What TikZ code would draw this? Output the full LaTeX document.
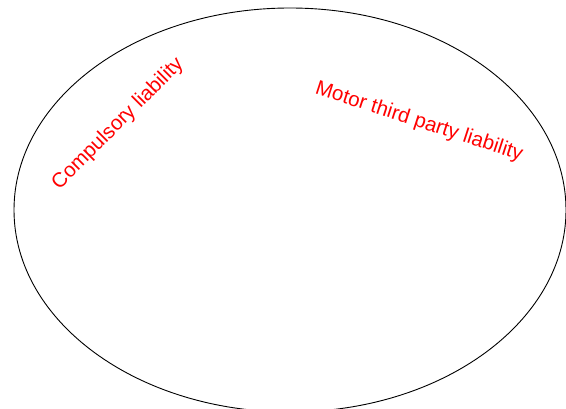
\documentclass[tikz,border=0pt]{standalone}
\usepackage{fontspec}
\setmainfont{Liberation Sans}
\begin{document}
\begin{tikzpicture}[x=1pt,y=-1pt,
  lbl/.style={text=red, font=\fontsize{20.5}{23}\selectfont, inner sep=0pt}]
\useasboundingbox (0,0) rectangle (566,409);
\begin{scope}
\clip (0,0) rectangle (566,409);
\draw[line width=0.9pt] (290,210) ellipse [x radius=276, y radius=202];
\end{scope}
\node[lbl, rotate=45] (comp) at (118,124) {Compulsory liability};
\node[lbl, rotate=-18] (motor) at (419,122) {Motor third party liability};
\end{tikzpicture}
\end{document}
